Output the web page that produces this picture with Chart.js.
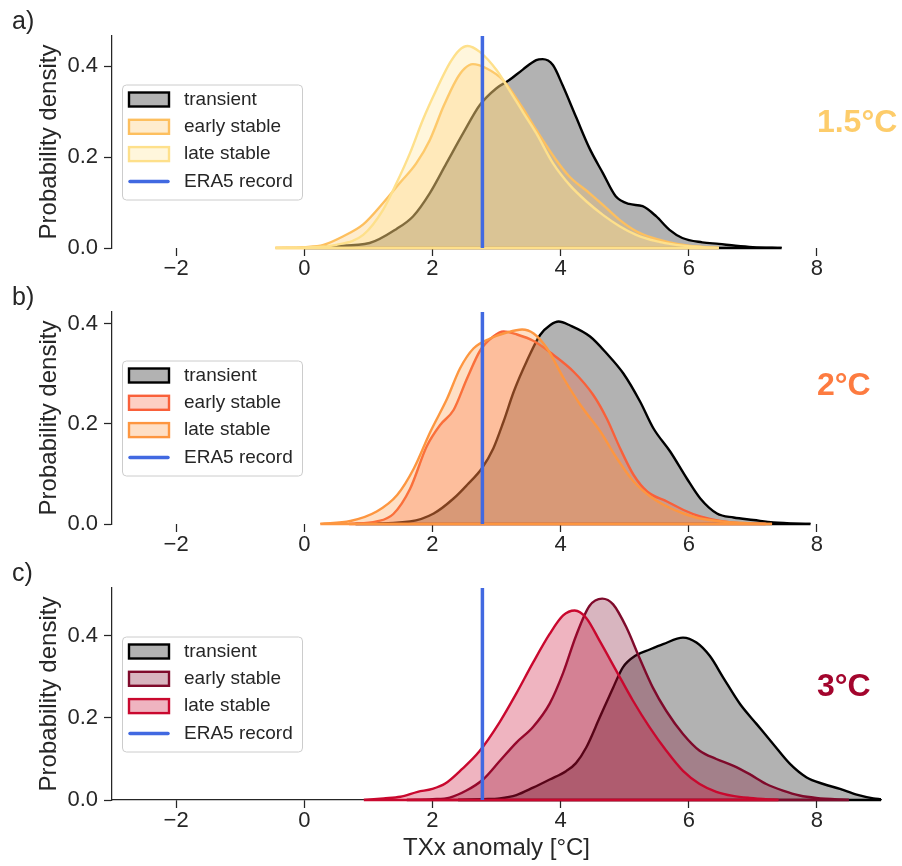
<!DOCTYPE html>
<html>
<head>
<meta charset="utf-8">
<script src="https://cdn.jsdelivr.net/npm/chart.js@4.4.1/dist/chart.umd.min.js"></script>
<style>
  html, body { margin: 0; padding: 0; background: #fff; }
  #wrap { position: relative; width: 902px; height: 866px; }
  canvas { position: absolute; left: 0; }
</style>
</head>
<body>
<div id="wrap">
  <canvas id="panelA" width="902" height="280" style="top:0px"></canvas>
  <canvas id="panelB" width="902" height="280" style="top:276px"></canvas>
  <canvas id="panelC" width="902" height="314" style="top:552px"></canvas>
</div>
<script>
// axis ticks / labels
const xTicks = [-2, 0, 2, 4, 6, 8];
const yTicks = [0.0, 0.2, 0.4];
const seriesLabels = ['transient', 'early stable', 'late stable', 'ERA5 record'];
const warmingLevels = ['1.5°C', '2°C', '3°C'];
const panelLetters = ['a)', 'b)', 'c)'];
const yMax = [0.467, 0.424, 0.517];
const era5Record = 2.78;

// 1.5°C
const x15Transient = [0.0, 0.45, 1.02, 1.44, 1.70, 1.96, 2.22, 2.48, 2.74, 3.0, 3.2, 3.41, 3.62, 3.72, 3.88, 4.03, 4.24, 4.45, 4.66, 4.86, 5.07, 5.28, 5.49, 5.70, 5.90, 6.21, 6.47, 6.73, 7.0, 7.45];
const y15Transient = [0.0, 0.004, 0.011, 0.042, 0.07, 0.121, 0.187, 0.253, 0.315, 0.352, 0.37, 0.393, 0.414, 0.416, 0.403, 0.359, 0.289, 0.22, 0.165, 0.114, 0.097, 0.092, 0.07, 0.040, 0.022, 0.0125, 0.009, 0.005, 0.002, 0.0];
const x15Early = [-0.45, 0.0, 0.30, 0.61, 0.92, 1.23, 1.49, 1.75, 1.96, 2.17, 2.37, 2.50, 2.63, 2.84, 3.1, 3.41, 3.62, 3.93, 4.14, 4.45, 4.66, 4.92, 5.18, 5.44, 5.70, 6.0, 6.47];
const y15Early = [0.0, 0.002, 0.007, 0.026, 0.052, 0.099, 0.143, 0.187, 0.238, 0.311, 0.37, 0.395, 0.405, 0.396, 0.37, 0.308, 0.26, 0.194, 0.157, 0.121, 0.095, 0.062, 0.037, 0.022, 0.0125, 0.005, 0.0];
const x15Late = [-0.45, 0.0, 0.5, 0.92, 1.23, 1.44, 1.65, 1.85, 2.06, 2.27, 2.42, 2.55, 2.74, 3.0, 3.2, 3.41, 3.62, 3.88, 4.14, 4.40, 4.66, 4.92, 5.18, 5.49, 5.80, 6.21, 6.47];
const y15Late = [0.0, 0.001, 0.007, 0.029, 0.084, 0.143, 0.209, 0.282, 0.348, 0.407, 0.436, 0.445, 0.432, 0.392, 0.348, 0.30, 0.253, 0.187, 0.139, 0.103, 0.073, 0.048, 0.029, 0.015, 0.007, 0.002, 0.0];

// 2°C
const x20Transient = [0.8, 1.65, 2.02, 2.33, 2.54, 2.77, 2.95, 3.11, 3.27, 3.47, 3.68, 3.84, 3.97, 4.15, 4.46, 4.72, 4.98, 5.24, 5.45, 5.71, 5.97, 6.18, 6.44, 6.70, 7.01, 7.32, 7.9];
const y20Transient = [0.0, 0.005, 0.021, 0.051, 0.078, 0.111, 0.151, 0.205, 0.265, 0.325, 0.378, 0.398, 0.405, 0.397, 0.375, 0.341, 0.301, 0.245, 0.191, 0.145, 0.091, 0.051, 0.021, 0.013, 0.008, 0.003, 0.0];
const x20Early = [0.7, 1.13, 1.39, 1.65, 1.91, 2.12, 2.33, 2.54, 2.75, 2.95, 3.11, 3.32, 3.58, 3.89, 4.20, 4.51, 4.72, 4.93, 5.14, 5.35, 5.66, 5.92, 6.18, 6.49, 6.85, 7.2];
const y20Early = [0.0, 0.005, 0.02, 0.07, 0.155, 0.198, 0.228, 0.291, 0.348, 0.375, 0.385, 0.379, 0.366, 0.338, 0.305, 0.258, 0.211, 0.151, 0.098, 0.065, 0.045, 0.028, 0.015, 0.006, 0.001, 0.0];
const x20Late = [0.25, 0.72, 1.13, 1.45, 1.71, 1.97, 2.23, 2.43, 2.64, 2.90, 3.16, 3.40, 3.58, 3.79, 4.05, 4.31, 4.62, 4.88, 5.14, 5.40, 5.66, 5.92, 6.18, 6.70, 7.30];
const y20Late = [0.0, 0.006, 0.025, 0.058, 0.111, 0.185, 0.251, 0.311, 0.351, 0.371, 0.383, 0.389, 0.381, 0.351, 0.291, 0.238, 0.185, 0.131, 0.085, 0.055, 0.035, 0.021, 0.011, 0.003, 0.0];

// 3°C
const x30Transient = [2.4, 2.79, 3.05, 3.31, 3.57, 3.83, 4.09, 4.24, 4.40, 4.61, 4.82, 4.97, 5.18, 5.39, 5.60, 5.91, 6.12, 6.33, 6.54, 6.80, 7.06, 7.32, 7.58, 7.84, 8.10, 8.36, 8.62, 8.88, 9.0];
const y30Transient = [0.0, 0.002, 0.004, 0.012, 0.03, 0.05, 0.071, 0.09, 0.128, 0.201, 0.274, 0.323, 0.353, 0.367, 0.38, 0.396, 0.384, 0.351, 0.298, 0.234, 0.185, 0.136, 0.088, 0.055, 0.039, 0.027, 0.013, 0.004, 0.002];
const x30Early = [1.6, 2.0, 2.27, 2.53, 2.79, 3.05, 3.31, 3.57, 3.83, 4.04, 4.24, 4.45, 4.65, 4.82, 5.03, 5.23, 5.44, 5.65, 5.91, 6.17, 6.43, 6.69, 6.95, 7.21, 7.47, 7.73, 7.99, 8.5];
const y30Early = [0.0, 0.002, 0.006, 0.023, 0.05, 0.095, 0.14, 0.178, 0.235, 0.31, 0.40, 0.473, 0.491, 0.477, 0.42, 0.347, 0.274, 0.217, 0.161, 0.12, 0.10, 0.084, 0.063, 0.039, 0.023, 0.011, 0.005, 0.0];
const x30Late = [0.93, 1.24, 1.5, 1.77, 2.0, 2.2, 2.46, 2.73, 3.05, 3.31, 3.57, 3.83, 4.04, 4.22, 4.40, 4.61, 4.87, 5.13, 5.39, 5.65, 5.91, 6.17, 6.43, 6.69, 6.95, 7.4];
const y30Late = [0.0, 0.004, 0.008, 0.02, 0.027, 0.04, 0.075, 0.118, 0.19, 0.26, 0.335, 0.405, 0.45, 0.462, 0.444, 0.388, 0.315, 0.242, 0.177, 0.12, 0.071, 0.039, 0.02, 0.01, 0.005, 0.0];

const ink = '#262626';
const fontFamily = "'Liberation Sans', Arial, sans-serif";
Chart.defaults.font.family = fontFamily;
Chart.defaults.color = ink;

const fmtX = v => (v < 0 ? '\u2212' + Math.abs(v) : String(v));
const kde = (xs, ys) => xs.map((x, i) => ({ x: x, y: ys[i] }));

// legend, baselines, panel letter and warming level label
const panelDecor = {
  id: 'panelDecor',
  afterDatasetDraw(chart, args) {
    const ds = chart.data.datasets[args.index];
    if (!ds.baseline) return;
    const ctx = chart.ctx, xs = chart.scales.x, ys = chart.scales.y;
    const pts = ds.data;
    const y0 = ys.getPixelForValue(0);
    ctx.save();
    ctx.strokeStyle = ds.borderColor;
    ctx.lineWidth = 2.4;
    ctx.beginPath();
    ctx.moveTo(xs.getPixelForValue(pts[0].x), y0);
    ctx.lineTo(Math.min(xs.getPixelForValue(pts[pts.length - 1].x), chart.chartArea.right), y0);
    ctx.stroke();
    ctx.restore();
  },
  afterDraw(chart, args, opts) {
    const ctx = chart.ctx, area = chart.chartArea;
    ctx.save();

    // legend box
    const w = 180, h = 115;
    const lx = area.left + 10, ly = (area.top + area.bottom) / 2 - h / 2;
    ctx.fillStyle = 'rgba(255,255,255,0.8)';
    ctx.strokeStyle = '#cccccc';
    ctx.lineWidth = 1;
    ctx.beginPath();
    ctx.roundRect(lx + 0.5, ly + 0.5, w, h, 4);
    ctx.fill();
    ctx.stroke();
    chart.data.datasets.forEach((ds, i) => {
      const cy = ly + 15 + i * 27.3;
      if (ds.baseline) {
        ctx.fillStyle = ds.backgroundColor;
        ctx.fillRect(lx + 7, cy - 7, 40, 14);
        ctx.strokeStyle = ds.borderColor;
        ctx.lineWidth = 2.4;
        ctx.strokeRect(lx + 7, cy - 7, 40, 14);
      } else {
        ctx.strokeStyle = ds.borderColor;
        ctx.lineWidth = 3.5;
        ctx.lineCap = 'round';
        ctx.beginPath();
        ctx.moveTo(lx + 8, cy);
        ctx.lineTo(lx + 46, cy);
        ctx.stroke();
      }
      ctx.fillStyle = ink;
      ctx.font = '19px ' + fontFamily;
      ctx.textAlign = 'left';
      ctx.textBaseline = 'middle';
      ctx.fillText(ds.label, lx + 62, cy);
    });

    // panel letter
    ctx.fillStyle = ink;
    ctx.font = '25px ' + fontFamily;
    ctx.textBaseline = 'alphabetic';
    ctx.fillText(opts.letter, 12, area.top - 7);

    // warming level
    ctx.fillStyle = opts.levelColor;
    ctx.font = 'bold 32px ' + fontFamily;
    ctx.textBaseline = 'middle';
    ctx.fillText(opts.level, chart.scales.x.getPixelForValue(8), chart.scales.y.getPixelForValue(0.275));
    ctx.restore();
  }
};

function makePanel(canvasId, p) {
  new Chart(document.getElementById(canvasId), {
    type: 'line',
    plugins: [panelDecor],
    data: {
      datasets: [
        { label: seriesLabels[0], data: kde(p.transient[0], p.transient[1]), borderColor: '#000000', backgroundColor: 'rgba(0,0,0,0.3)', fill: 'origin', order: 3, baseline: true },
        { label: seriesLabels[1], data: kde(p.early[0], p.early[1]), borderColor: p.earlyColor, backgroundColor: p.earlyFill, fill: 'origin', order: 2, baseline: true },
        { label: seriesLabels[2], data: kde(p.late[0], p.late[1]), borderColor: p.lateColor, backgroundColor: p.lateFill, fill: 'origin', order: 1, baseline: true },
        { label: seriesLabels[3], data: [{ x: era5Record, y: 0 }, { x: era5Record, y: p.yMax }], borderColor: '#4169e1', borderWidth: 3.5, fill: false, order: 0, tension: 0, cubicInterpolationMode: 'default' }
      ]
    },
    options: {
      responsive: false,
      animation: false,
      devicePixelRatio: 1,
      layout: { padding: { top: 36, right: 21, bottom: 0, left: 0 } },
      elements: {
        point: { radius: 0 },
        line: { borderWidth: 2.4, cubicInterpolationMode: 'monotone' }
      },
      plugins: {
        legend: { display: false },
        tooltip: { enabled: false },
        panelDecor: { letter: p.letter, level: p.level, levelColor: p.levelColor }
      },
      scales: {
        x: {
          type: 'linear',
          min: -3,
          max: 9,
          afterBuildTicks: s => { s.ticks = xTicks.map(v => ({ value: v })); },
          afterFit: s => { s.height = p.xHeight; },
          ticks: { font: { size: 22 }, color: ink, padding: 0, autoSkip: false, maxRotation: 0, callback: v => fmtX(v) },
          grid: { display: true, drawOnChartArea: false, drawTicks: true, tickLength: 8, tickWidth: 1.25, tickColor: ink },
          border: { display: p.xSpine, color: ink, width: 1.25 },
          title: { display: p.xTitle, text: 'TXx anomaly [°C]', font: { size: 24 }, color: ink, padding: { top: 0, bottom: 3 } }
        },
        y: {
          min: 0,
          max: p.yMax,
          afterBuildTicks: s => { s.ticks = yTicks.map(v => ({ value: v })); },
          afterFit: s => { s.width = 112; },
          ticks: { font: { size: 22 }, color: ink, padding: 6, autoSkip: false, callback: v => v.toFixed(1) },
          grid: { display: true, drawOnChartArea: false, drawTicks: true, tickLength: 8, tickWidth: 1.25, tickColor: ink },
          border: { display: true, color: ink, width: 1.25 },
          title: { display: true, text: 'Probability density', font: { size: 24 }, color: ink, padding: { top: 35, bottom: 0 } }
        }
      }
    }
  });
}

makePanel('panelA', {
  transient: [x15Transient, y15Transient], early: [x15Early, y15Early], late: [x15Late, y15Late],
  earlyColor: '#fdbf5e', earlyFill: 'rgba(253,191,94,0.3)', lateColor: '#fee08b', lateFill: 'rgba(254,224,139,0.3)',
  yMax: yMax[0], letter: panelLetters[0], level: warmingLevels[0], levelColor: '#fdcc6a',
  xHeight: 32, xSpine: false, xTitle: false
});
makePanel('panelB', {
  transient: [x20Transient, y20Transient], early: [x20Early, y20Early], late: [x20Late, y20Late],
  earlyColor: '#f9603a', earlyFill: 'rgba(249,96,58,0.3)', lateColor: '#fd9640', lateFill: 'rgba(253,150,64,0.3)',
  yMax: yMax[1], letter: panelLetters[1], level: warmingLevels[1], levelColor: '#fd7b40',
  xHeight: 32, xSpine: false, xTitle: false
});
makePanel('panelC', {
  transient: [x30Transient, y30Transient], early: [x30Early, y30Early], late: [x30Late, y30Late],
  earlyColor: '#7f0a2b', earlyFill: 'rgba(127,10,43,0.3)', lateColor: '#c9082e', lateFill: 'rgba(201,8,46,0.3)',
  yMax: yMax[2], letter: panelLetters[2], level: warmingLevels[2], levelColor: '#a3052d',
  xHeight: 66, xSpine: true, xTitle: true
});
</script>
</body>
</html>
